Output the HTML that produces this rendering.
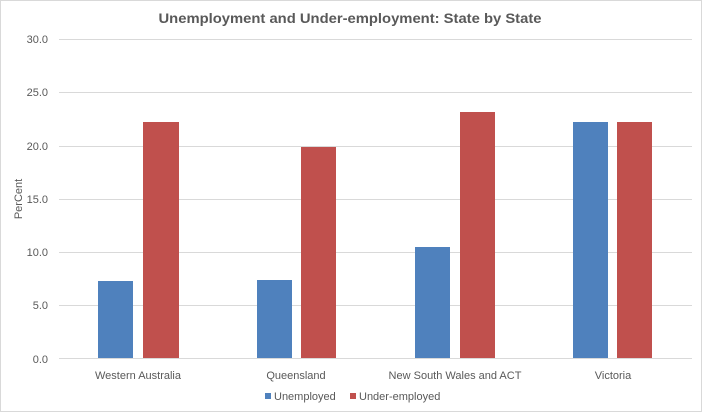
<!DOCTYPE html>
<html><head><style>html,body{margin:0;padding:0;background:#fff}svg{display:block}</style></head>
<body>
<svg width="702" height="412" xmlns="http://www.w3.org/2000/svg" font-family="Liberation Sans, sans-serif">
<rect x="0.5" y="0.5" width="701" height="411" fill="#fff" stroke="#d9d9d9"/>
<text x="350" y="23" text-anchor="middle" font-size="14" font-weight="bold" fill="#595959" textLength="383" lengthAdjust="spacingAndGlyphs">Unemployment and Under-employment: State by State</text>
<g stroke="#d9d9d9" stroke-width="1">
<line x1="59" x2="692" y1="39.5" y2="39.5"/>
<line x1="59" x2="692" y1="92.5" y2="92.5"/>
<line x1="59" x2="692" y1="146.5" y2="146.5"/>
<line x1="59" x2="692" y1="199.5" y2="199.5"/>
<line x1="59" x2="692" y1="252.5" y2="252.5"/>
<line x1="59" x2="692" y1="305.5" y2="305.5"/>
</g>
<g font-size="11" fill="#595959" text-anchor="end">
<text x="48" y="43">30.0</text>
<text x="48" y="96">25.0</text>
<text x="48" y="150">20.0</text>
<text x="48" y="203">15.0</text>
<text x="48" y="256">10.0</text>
<text x="48" y="309">5.0</text>
<text x="48" y="363">0.0</text>
</g>
<text transform="translate(22,199) rotate(-90)" text-anchor="middle" font-size="11" fill="#595959">PerCent</text>
<g fill="#4f81bd">
<rect x="98" y="281" width="35" height="78"/>
<rect x="257" y="280" width="35" height="79"/>
<rect x="415" y="247" width="35" height="112"/>
<rect x="573" y="122" width="35" height="237"/>
</g>
<g fill="#c0504d">
<rect x="143" y="122" width="36" height="237"/>
<rect x="301" y="147" width="35" height="212"/>
<rect x="460" y="112" width="35" height="247"/>
<rect x="617" y="122" width="35" height="237"/>
</g>
<line x1="59" x2="692" y1="358.5" y2="358.5" stroke="#d9d9d9"/>
<g font-size="11" fill="#595959" text-anchor="middle">
<text x="138" y="379">Western Australia</text>
<text x="296" y="379">Queensland</text>
<text x="455" y="379">New South Wales and ACT</text>
<text x="613" y="379">Victoria</text>
</g>
<rect x="265" y="393" width="6" height="6" fill="#4f81bd"/>
<text x="274" y="400" font-size="11" fill="#595959">Unemployed</text>
<rect x="350" y="393" width="6" height="6" fill="#c0504d"/>
<text x="359" y="400" font-size="11" fill="#595959">Under-employed</text>
</svg>
</body></html>
